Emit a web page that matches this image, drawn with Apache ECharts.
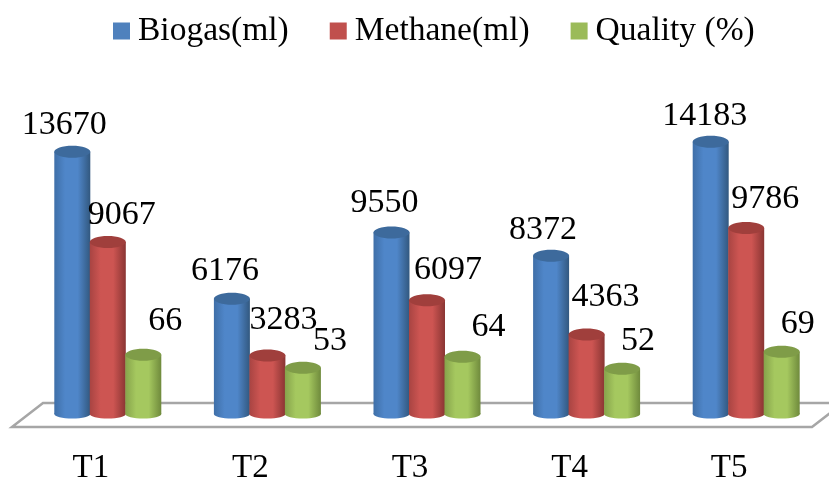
<!DOCTYPE html>
<html>
<head>
<meta charset="utf-8">
<style>
  html, body { margin: 0; padding: 0; background: #fff; }
  #chart { width: 829px; height: 478px; filter: blur(0.5px); }
</style>
<script src="https://cdn.jsdelivr.net/npm/echarts@6/dist/echarts.min.js"></script>
</head>
<body>
<div id="chart"></div>
<script>
  const categories = ['T1', 'T2', 'T3', 'T4', 'T5']
  const biogas = [13670, 6176, 9550, 8372, 14183]
  const methane = [9067, 3283, 6097, 4363, 9786]
  const quality = [66, 53, 64, 52, 69]

  // hand placed labels, offset from the top of each cylinder
  const biogasLabelOffset = [[-8, -27], [-7, -28], [-7, -30], [-8, -26], [-6, -26]]
  const methaneLabelOffset = [[14, -27], [16, -35], [21, -30], [19, -37], [19, -29]]
  const qualityLabelOffset = [[22, -34], [27, -27], [26, -30], [16, -28], [16, -28]]

  const FONT = '"Liberation Serif", "Times New Roman", serif'
  const BAR_WIDTH = 36

  function cylinder(slot, offsets, colors) {
    return function (params, api) {
      const i = api.value(0)
      const top = api.coord([i, api.value(1)])
      // floor of the 3d plot sits a little above the zero line
      const base = params.coordSys.y + params.coordSys.height - 6
      const x = top[0] + slot * 35.5 - BAR_WIDTH / 2
      const rx = BAR_WIDTH / 2
      const fill = new echarts.graphic.LinearGradient(0, 0, 1, 0, [
        { offset: 0, color: colors[1] },
        { offset: 0.3, color: colors[0] },
        { offset: 0.65, color: colors[0] },
        { offset: 1, color: colors[2] }
      ])
      const off = offsets[i]
      return {
        type: 'group',
        children: [
          { type: 'ellipse', shape: { cx: x + rx, cy: base, rx: rx, ry: 4.5 }, style: { fill: fill } },
          { type: 'rect', shape: { x: x, y: top[1], width: BAR_WIDTH, height: base - top[1] }, style: { fill: fill } },
          { type: 'ellipse', shape: { cx: x + rx, cy: top[1], rx: rx, ry: 6 }, style: { fill: colors[3] } },
          {
            type: 'text',
            style: {
              x: x + rx + off[0],
              y: top[1] + off[1],
              text: String(api.value(1)),
              font: '34px ' + FONT,
              fill: '#000',
              align: 'center',
              verticalAlign: 'middle'
            }
          }
        ]
      }
    }
  }

  function toPoints(values) {
    return values.map((v, i) => [i, v])
  }

  const myChart = echarts.init(document.getElementById('chart'))
  myChart.setOption({
    animation: false,
    backgroundColor: '#fff',
    legend: {
      left: 108,
      top: 9,
      itemWidth: 17,
      itemHeight: 17,
      itemGap: 41,
      icon: 'rect',
      textStyle: { fontFamily: FONT, fontSize: 33.5, color: '#000', padding: [0, 0, 0, 3] },
      data: ['Biogas(ml)', 'Methane(ml)', 'Quality (%)']
    },
    grid: { left: 28, right: 3, top: 106, bottom: 58, outerBoundsMode: 'none' },
    xAxis: {
      type: 'category',
      data: categories,
      axisLine: { show: false },
      axisTick: { show: false },
      axisLabel: {
        margin: 32,
        fontFamily: FONT,
        fontSize: 33,
        color: '#000',
        padding: [0, 34, 0, 0]
      }
    },
    yAxis: [
      { type: 'value', min: 0, max: 16000, show: false },
      { type: 'value', min: 0, max: 318, show: false }
    ],
    graphic: [
      {
        type: 'polygon',
        z: 0,
        silent: true,
        shape: { points: [[12, 427], [43, 403], [843, 403], [812, 427]] },
        style: { fill: '#fff', stroke: '#a6a6a6', lineWidth: 2.5 }
      }
    ],
    series: [
      {
        name: 'Biogas(ml)',
        type: 'custom',
        z: 10,
        itemStyle: { color: '#4f81bd' },
        renderItem: cylinder(-1, biogasLabelOffset, ['#4f86c9', '#3f6fa8', '#32587f', '#3d6a9c']),
        data: toPoints(biogas)
      },
      {
        name: 'Methane(ml)',
        type: 'custom',
        z: 11,
        itemStyle: { color: '#c0504d' },
        renderItem: cylinder(0, methaneLabelOffset, ['#cd5552', '#a84442', '#8a3533', '#a03f3c']),
        data: toPoints(methane)
      },
      {
        name: 'Quality (%)',
        type: 'custom',
        yAxisIndex: 1,
        z: 12,
        itemStyle: { color: '#9bbb59' },
        renderItem: cylinder(1, qualityLabelOffset, ['#a5c85f', '#86a34b', '#6f8a3c', '#7f9c48']),
        data: toPoints(quality)
      }
    ]
  })
</script>
</body>
</html>
